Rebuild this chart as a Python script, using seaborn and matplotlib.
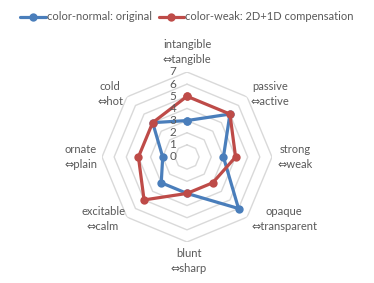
import numpy as np
import pandas as pd
import seaborn as sns
import matplotlib.pyplot as plt

# axes go clockwise starting from the top
categories = ["intangible\n\u21d4tangible", "passive\n\u21d4active", "strong\n\u21d4weak",
              "opaque\n\u21d4transparent", "blunt\n\u21d4sharp", "excitable\n\u21d4calm",
              "ornate\n\u21d4plain", "cold\n\u21d4hot"]
normal_vals = [3, 5, 3, 6, 3, 3, 2, 4]
weak_vals = [5, 5, 4, 3, 3, 5, 4, 4]
series_names = ["color-normal: original", "color-weak: 2D+1D compensation"]
ring_ticks = [0, 1, 2, 3, 4, 5, 6, 7]

# pixel offsets of the category labels from the chart centre
label_offsets = [(0, 105), (83, 63), (108, 0), (97, -62), (2, -104), (-84, -62), (-106, 0), (-77, 63)]

sns.set_style("white")
plt.rcParams['font.family'] = ['Lato', 'DejaVu Sans']

blue = "#4A7EBB"
red = "#BE4B48"
grey_txt = "#595959"

n = len(categories)
angles = np.linspace(0, 2 * np.pi, n, endpoint=False)

rows = []
for name, vals in zip(series_names, [normal_vals, weak_vals]):
    for i in range(n + 1):
        rows.append((name, angles[i % n] if i < n else 2 * np.pi, vals[i % n], i))
df = pd.DataFrame(rows, columns=["series", "theta", "value", "order"])

fig = plt.figure(figsize=(3.74, 2.83), dpi=100)
ax = fig.add_axes([102 / 374, 41 / 283, 170 / 374, 170 / 283], projection="polar")
ax.set_theta_offset(np.pi / 2)
ax.set_theta_direction(-1)
ax.set_ylim(0, 7)
ax.grid(False)
ax.set_xticks([])
ax.set_yticks([])
ax.spines["polar"].set_visible(False)
ax.patch.set_alpha(0)

# octagon gridlines
closed = np.append(angles, angles[0])
for r in ring_ticks[1:]:
    ax.plot(closed, [r] * (n + 1), color="#D9D9D9", lw=1.0, zorder=1)

sns.lineplot(data=df, x="theta", y="value", hue="series", sort=False, estimator=None,
             units="series", palette=[blue, red], marker="o", markersize=6,
             markeredgewidth=0, linewidth=2.3, ax=ax, legend=False, zorder=3)
ax.set_xlabel("")
ax.set_ylabel("")
ax.set_ylim(0, 7)

for r in ring_ticks:
    ax.annotate(str(r), xy=(0, r), xytext=(-14, 0), textcoords="offset pixels",
                ha="center", va="center", fontsize=8.5, color=grey_txt)

for lab, (dx, dy) in zip(categories, label_offsets):
    ax.annotate(lab, xy=(0, 0), xytext=(dx, dy), textcoords="offset pixels",
                ha="center", va="center", fontsize=8, color=grey_txt,
                linespacing=1.5, annotation_clip=False)

handles = [plt.Line2D([], [], color=c, lw=2.3, marker="o", ms=6, mew=0) for c in [blue, red]]
fig.legend(handles, series_names, loc="upper center", bbox_to_anchor=(0.5, 0.995), ncol=2,
           frameon=False, fontsize=8, handlelength=2.3, handletextpad=0.1,
           columnspacing=0.6, labelcolor=grey_txt)

fig.savefig("out.png", dpi=100)
